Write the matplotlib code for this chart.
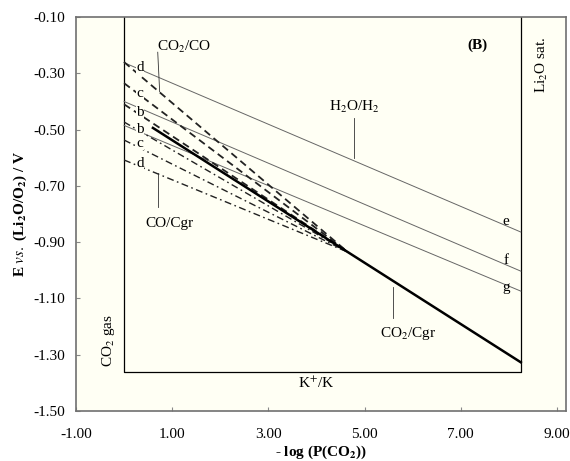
import matplotlib
matplotlib.use("Agg")
import matplotlib.pyplot as plt

# ---- data ----
x_left, x_right = 0.0, 8.25          # inner box (CO2 gas / Li2O sat. limits)
E_bottom = -1.36                     # K+/K limit
x_conv, E_conv = 4.65, -0.935        # where CO2/CO and CO/Cgr meet CO2/Cgr

co2_co_labels = ['d', 'c', 'b']
co2_co_start = [-0.26, -0.335, -0.41]

co_cgr_labels = ['b', 'c', 'd']
co_cgr_start = [-0.473, -0.537, -0.608]

h2o_labels = ['e', 'f', 'g']
h2o_start = [-0.262, -0.40, -0.485]
h2o_end = [-0.864, -1.003, -1.074]

co2_cgr_x = [0.6, x_conv, x_right]
co2_cgr_E = [-0.494, E_conv, -1.327]

xticks = [-1, 1, 3, 5, 7, 9]
yticks = [-0.1, -0.3, -0.5, -0.7, -0.9, -1.1, -1.3, -1.5]

plt.rcParams['font.family'] = ['Liberation Serif', 'DejaVu Serif']
plt.rcParams['mathtext.fontset'] = 'stix'

fig = plt.figure(figsize=(5.70, 4.61), dpi=100)
ax = fig.add_axes([0.1333, 0.1085, 0.8597, 0.8545])
bg = '#fffff4'
ax.set_facecolor(bg)

# inner box
ax.plot([x_left, x_left, x_right, x_right], [-0.1, E_bottom, E_bottom, -0.1],
        color='black', lw=0.9)

# H2O/H2 thin lines
for lab, s, e in zip(h2o_labels, h2o_start, h2o_end):
    ax.plot([x_left, x_right], [s, e], color='#666666', lw=0.7)

# CO2/CO dashed lines
for lab, s in zip(co2_co_labels, co2_co_start):
    ax.plot([x_left, x_conv], [s, E_conv], color='#222222', lw=1.3,
            dashes=(4, 2.5))

# CO/Cgr dash-dot lines
for lab, s in zip(co_cgr_labels, co_cgr_start):
    ax.plot([x_left, x_conv], [s, E_conv], color='#222222', lw=1.0,
            dashes=(5, 2.5, 1.2, 2.5))

# CO2/Cgr solid
ax.plot(co2_cgr_x, co2_cgr_E, color='black', lw=1.8)

# line letters
lab_kw = dict(fontsize=11, ha='center', va='center',
              bbox=dict(facecolor=bg, edgecolor='none', pad=0.3))
for lab, y in zip(['d', 'c', 'b', 'b', 'c', 'd'],
                  [-0.28, -0.37, -0.438, -0.498, -0.548, -0.619]):
    ax.text(0.33, y, lab, **lab_kw)
for lab, y in zip(h2o_labels, [-0.828, -0.964, -1.06]):
    ax.text(7.94, y, lab, fontsize=11, ha='center', va='center')

# annotations with leader lines
ax.text(1.25, -0.205, 'CO$_2$/CO', fontsize=11, ha='center', va='center')
ax.plot([0.7, 0.74], [-0.225, -0.365], color='#333333', lw=0.6)

ax.text(4.8, -0.42, 'H$_2$O/H$_2$', fontsize=11, ha='center', va='center')
ax.plot([4.79, 4.79], [-0.46, -0.60], color='#333333', lw=0.6)

ax.text(0.95, -0.835, 'CO/Cgr', fontsize=11, ha='center', va='center')
ax.plot([0.71, 0.71], [-0.655, -0.775], color='#333333', lw=0.6)

ax.text(5.9, -1.223, 'CO$_2$/Cgr', fontsize=11, ha='center', va='center')
ax.plot([5.6, 5.6], [-1.06, -1.17], color='#333333', lw=0.6)

ax.text(7.35, -0.2, '(B)', fontsize=11, fontweight='bold', ha='center', va='center')
ax.text(8.68, -0.27, 'Li$_2$O sat.', fontsize=11, rotation=90, ha='center', va='center')
ax.text(-0.32, -1.25, 'CO$_2$ gas', fontsize=11, rotation=90, ha='center', va='center')
ax.text(4.0, -1.40, 'K$^{+}$/K', fontsize=11, ha='center', va='center')

ax.set_xlim(-1, 9.19)
ax.set_ylim(-1.5, -0.1)
ax.set_xticks(xticks)
ax.set_xticklabels([f'{v:.2f}' for v in xticks])
ax.set_yticks(yticks)
ax.set_yticklabels([f'{v:.2f}' for v in yticks])
ax.tick_params(direction='in', length=3, color='#888888', labelsize=11, pad=12)
ax.tick_params(axis='y', pad=8)
for sp in ax.spines.values():
    sp.set_color('#707070')
    sp.set_linewidth(1.2)

ax.set_xlabel('- log (P(CO$_\\mathbf{2}$))', fontsize=11, fontweight='bold', labelpad=2)
ax.set_ylabel('E $\\it{vs.}$ (Li$_\\mathbf{2}$O/O$_\\mathbf{2}$) / V', fontsize=11,
              fontweight='bold', labelpad=3)

fig.savefig('out.png', dpi=100, facecolor='white')
